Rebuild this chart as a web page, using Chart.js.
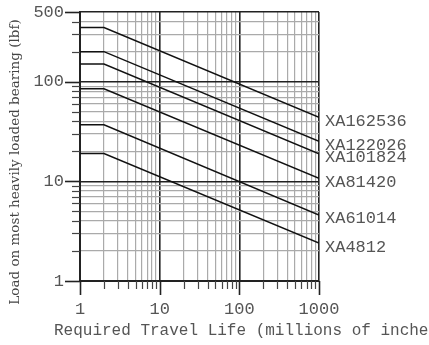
<!DOCTYPE html>
<html>
<head>
<meta charset="utf-8">
<script src="https://cdn.jsdelivr.net/npm/chart.js@4.4.1/dist/chart.umd.min.js"></script>
<style>
body { margin: 0; background: #fff; }
</style>
</head>
<body>
<canvas id="bearing_chart" width="429" height="345"></canvas>
<script>
// travel life (millions of inches) where each curve is read: start, knee, end
var travel_life = [1, 2, 1000];
var series_names = ['XA162536', 'XA122026', 'XA101824', 'XA81420', 'XA61014', 'XA4812'];
// load (lbf) on the flat part and at 1000 million inches
var flat_load = [350, 200, 150, 85, 37, 19];
var end_load = [44, 25.2, 18.9, 10.7, 4.6, 2.4];
var x_tick_labels = [1, 10, 100, 1000];
var y_tick_labels = [1, 10, 100, 500];

var datasets = series_names.map(function (name, i) {
    return {
        label: name,
        data: [
            { x: travel_life[0], y: flat_load[i] },
            { x: travel_life[1], y: flat_load[i] },
            { x: travel_life[2], y: end_load[i] }
        ],
        borderColor: '#111',
        borderWidth: 1.5,
        pointRadius: 0,
        tension: 0
    };
});

// log ticks 1..9 per decade, for the grid
function log_ticks(max) {
    var out = [];
    for (var d = 1; d <= max; d *= 10) {
        for (var k = 1; k <= 9; k++) {
            if (k * d <= max) out.push({ value: k * d });
        }
    }
    return out;
}

function grid_color(labels) {
    return function (ctx) {
        return labels.indexOf(ctx.tick.value) >= 0 ? '#222' : '#aaa';
    };
}
function grid_width(labels) {
    return function (ctx) {
        return labels.indexOf(ctx.tick.value) >= 0 ? 1.6 : 1.2;
    };
}

// titles, series names and outside tick marks
var extra_text = {
    id: 'extra_text',
    afterDraw: function (chart) {
        var ctx = chart.ctx;
        var xs = chart.scales.x, ys = chart.scales.y;
        var area = chart.chartArea;
        ctx.save();

        xs.ticks.forEach(function (t) {
            var px = Math.round(xs.getPixelForValue(t.value)) + 0.5;
            var major = x_tick_labels.indexOf(t.value) >= 0;
            ctx.strokeStyle = major ? '#222' : '#444';
            ctx.lineWidth = major ? 1.6 : 1.2;
            ctx.beginPath();
            ctx.moveTo(px, area.bottom);
            ctx.lineTo(px, area.bottom + (major ? 14 : 8));
            ctx.stroke();
        });
        ys.ticks.forEach(function (t) {
            var py = Math.round(ys.getPixelForValue(t.value)) + 0.5;
            var major = y_tick_labels.indexOf(t.value) >= 0;
            ctx.strokeStyle = major ? '#222' : '#444';
            ctx.lineWidth = major ? 1.6 : 1.2;
            ctx.beginPath();
            ctx.moveTo(area.left, py);
            ctx.lineTo(area.left - (major ? 15 : 8), py);
            ctx.stroke();
        });

        ctx.fillStyle = '#555';
        ctx.font = '17px "Liberation Mono", monospace';
        ctx.textAlign = 'left';
        ctx.textBaseline = 'middle';
        series_names.forEach(function (name, i) {
            ctx.fillText(name, area.right + 6, ys.getPixelForValue(end_load[i]) + 4);
        });

        ctx.font = '16px "Liberation Mono", monospace';
        ctx.fillText('Required Travel Life (millions of inches)', 54, 331);

        ctx.translate(15, 162);
        ctx.rotate(-Math.PI / 2);
        ctx.textAlign = 'center';
        ctx.font = '13.5px "DejaVu Serif", serif';
        ctx.fillStyle = '#444';
        ctx.fillText('Load on most heavily loaded bearing (lbf)', 0, 0);
        ctx.restore();
    }
};

var bearing_chart = new Chart(document.getElementById('bearing_chart').getContext('2d'), {
    type: 'line',
    data: { datasets: datasets },
    plugins: [extra_text],
    options: {
        responsive: false,
        devicePixelRatio: 1,
        animation: false,
        layout: { padding: { left: 0, right: 110, top: 12, bottom: 0 } },
        plugins: { legend: { display: false }, tooltip: { enabled: false } },
        scales: {
            x: {
                type: 'logarithmic',
                min: 1,
                max: 1000,
                afterBuildTicks: function (scale) { scale.ticks = log_ticks(1000); },
                afterFit: function (scale) {
                    scale.height = 64;
                    scale.paddingLeft = 0;
                    scale.paddingRight = 0;
                },
                grid: { color: grid_color(x_tick_labels), lineWidth: grid_width(x_tick_labels), drawTicks: false },
                border: { display: true, color: '#222', width: 2 },
                ticks: {
                    autoSkip: false,
                    maxRotation: 0,
                    padding: 18,
                    color: '#555',
                    font: { family: 'Liberation Mono', size: 17 },
                    callback: function (v) { return x_tick_labels.indexOf(v) >= 0 ? String(v) : ''; }
                }
            },
            y: {
                type: 'logarithmic',
                min: 1,
                max: 500,
                afterBuildTicks: function (scale) { scale.ticks = log_ticks(500); },
                afterFit: function (scale) {
                    scale.width = 80;
                    scale.paddingTop = 0;
                    scale.paddingBottom = 0;
                },
                grid: { color: grid_color(y_tick_labels), lineWidth: grid_width(y_tick_labels), drawTicks: false },
                border: { display: true, color: '#222', width: 2 },
                ticks: {
                    autoSkip: false,
                    padding: 16,
                    color: '#555',
                    font: { family: 'Liberation Mono', size: 17 },
                    callback: function (v) { return y_tick_labels.indexOf(v) >= 0 ? String(v) : ''; }
                }
            }
        }
    }
});
</script>
</body>
</html>
